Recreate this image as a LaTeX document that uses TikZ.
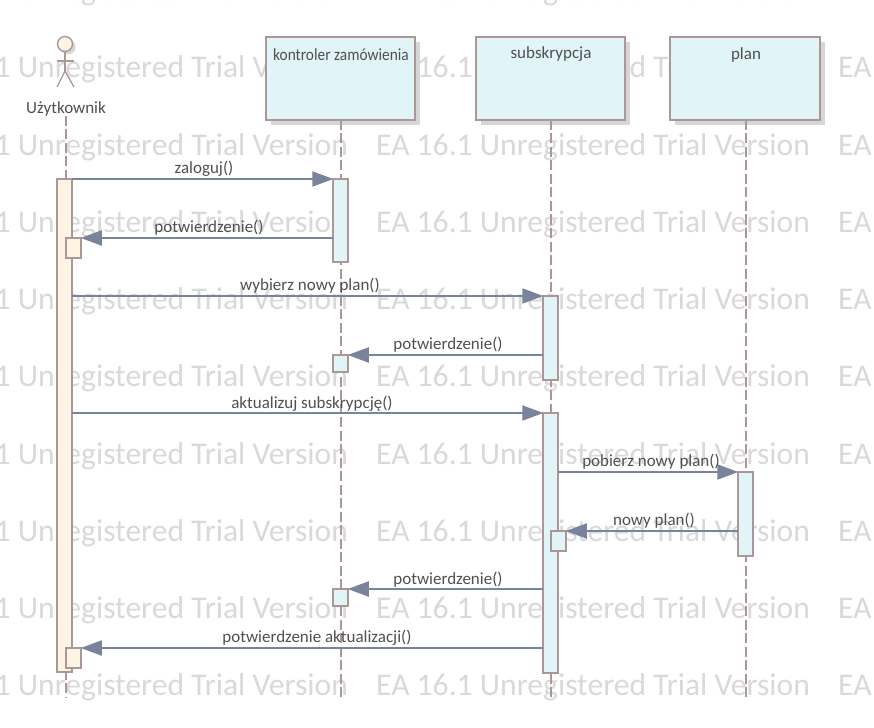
\documentclass[tikz,border=0pt]{standalone}
\usepackage{fontspec}
\setmainfont{Carlito}
\usetikzlibrary{arrows.meta,shadows}
\definecolor{edgec}{HTML}{AC9797}
\definecolor{bluef}{HTML}{E1F4F8}
\definecolor{creamf}{HTML}{FEF4E4}
\definecolor{msgc}{HTML}{7A839C}
\definecolor{txtc}{HTML}{505050}
\definecolor{wmc}{HTML}{D9D9D9}
\definecolor{shadowc}{HTML}{D6D6D6}
\tikzset{
  x=1pt,y=-1pt,
  wm/.style={anchor=base west,inner sep=0pt,text=wmc,font=\fontsize{31.6}{33}\selectfont},
  objbox/.style={draw=edgec,line width=2pt,fill=bluef,inner sep=0pt,outer sep=0pt,
    general shadow={fill=shadowc,shadow xshift=5pt,shadow yshift=-5pt}},
  actblue/.style={draw=edgec,line width=2pt,fill=bluef,inner sep=0pt,outer sep=0pt,minimum width=14.5pt},
  actcream/.style={actblue,fill=creamf},
  lifeline/.style={draw=edgec,line width=1.8pt,dash pattern=on 10pt off 3.5pt},
  msg/.style={draw=msgc,line width=2pt,-{Triangle[length=21pt,width=15pt,fill=msgc]}},
  msgtxt/.style={text=txtc,inner sep=0pt,yshift=-1.5pt,font=\fontsize{17}{17}\selectfont},
  limb/.style={draw=edgec,line width=1.3pt},
}
\begin{document}
\begin{tikzpicture}
\useasboundingbox (0,0) rectangle (874,727);
\clip (0,0) rectangle (874,727);
\fill[white] (0,0) rectangle (874,727);
% watermark
\foreach \r in {0,...,9}{
  \foreach \c in {-1,0,1}{
    \node[wm] (wm\r\c) at ({376+462*\c},{0.8+77.2*\r}) {EA 16.1 Unregistered Trial Version};
  }
}
% anchors of the lifelines
\coordinate (ulTop) at (66,116);
\coordinate (ulEnd) at (66,698);
% object boxes
\node[objbox,minimum width=149pt,minimum height=83pt] (kbox) at (340.5,78.5) {};
\node[objbox,minimum width=149pt,minimum height=83pt] (sbox) at (550.5,78.5) {};
\node[objbox,minimum width=150pt,minimum height=83pt] (pbox) at (745,78.5) {};
\node[msgtxt] (ktxt) at (341,53) {\scalebox{0.905}[1]{kontroler zamówienia}};
\node[msgtxt] (stxt) at (551,53) {subskrypcja};
\node[msgtxt] (ptxt) at (746,53) {plan};
% lifelines
\draw[lifeline] (ulTop) -- (ulEnd);
\draw[lifeline] (kbox.south -| 341,0) -- (341,698);
\draw[lifeline] (sbox.south -| 551,0) -- (551,698);
\draw[lifeline] (pbox.south -| 746,0) -- (746,698);
% actor
\fill[shadowc] (68,47) circle (7.5pt);
\node[circle,draw=edgec,line width=1.4pt,fill=creamf,minimum size=15pt,inner sep=0pt] (head) at (65,44) {};
\draw[limb] (head.south) -- (65,71);
\draw[limb] (57,61) -- (74,61);
\draw[limb] (57,87) -- (65,71) -- (74,87);
\node[msgtxt] (utxt) at (66,107) {Użytkownik};
% activations
\node[actcream,minimum height=493pt] (ua) at (64.5,425.5) {};
\node[actcream,minimum height=20pt] (ua1) at (73.5,248) {};
\node[actcream,minimum height=20pt] (ua2) at (73.5,658) {};
\node[actblue,minimum height=83pt] (ka) at (340.5,220.5) {};
\node[actblue,minimum height=17pt] (ka1) at (340.5,363.5) {};
\node[actblue,minimum height=17pt] (ka2) at (340.5,597.5) {};
\node[actblue,minimum height=84pt] (sa) at (550.5,338) {};
\node[actblue,minimum height=260pt] (sb) at (550.5,543) {};
\node[actblue,minimum height=20pt] (sb1) at (558.5,541) {};
\node[actblue,minimum height=84pt] (pa) at (745.5,514) {};
% messages
\draw[msg] (ua.east |- 0,179) -- (ka.west |- 0,179);
\draw[msg] (ka.west |- 0,238) -- (ua1.east |- 0,238);
\draw[msg] (ua.east |- 0,296) -- (sa.west |- 0,296);
\draw[msg] (sa.west |- 0,355) -- (ka1.east |- 0,355);
\draw[msg] (ua.east |- 0,413) -- (sb.west |- 0,413);
\draw[msg] (sb.east |- 0,472) -- (pa.west |- 0,472);
\draw[msg] (pa.west |- 0,531) -- (sb1.east |- 0,531);
\draw[msg] (sb.west |- 0,589) -- (ka2.east |- 0,589);
\draw[msg] (sb.west |- 0,648) -- (ua2.east |- 0,648);
% labels
\node[msgtxt] (m1) at (204,167) {zaloguj()};
\node[msgtxt] (m2) at (209,226) {potwierdzenie()};
\node[msgtxt] (m3) at (310,284) {wybierz nowy plan()};
\node[msgtxt] (m4) at (448,343) {potwierdzenie()};
\node[msgtxt] (m5) at (312,402) {aktualizuj subskrypcję()};
\node[msgtxt] (m6) at (651,460) {pobierz nowy plan()};
\node[msgtxt] (m7) at (654,519) {nowy plan()};
\node[msgtxt] (m8) at (448,578) {potwierdzenie()};
\node[msgtxt] (m9) at (317,636) {potwierdzenie aktualizacji()};
\end{tikzpicture}
\end{document}
